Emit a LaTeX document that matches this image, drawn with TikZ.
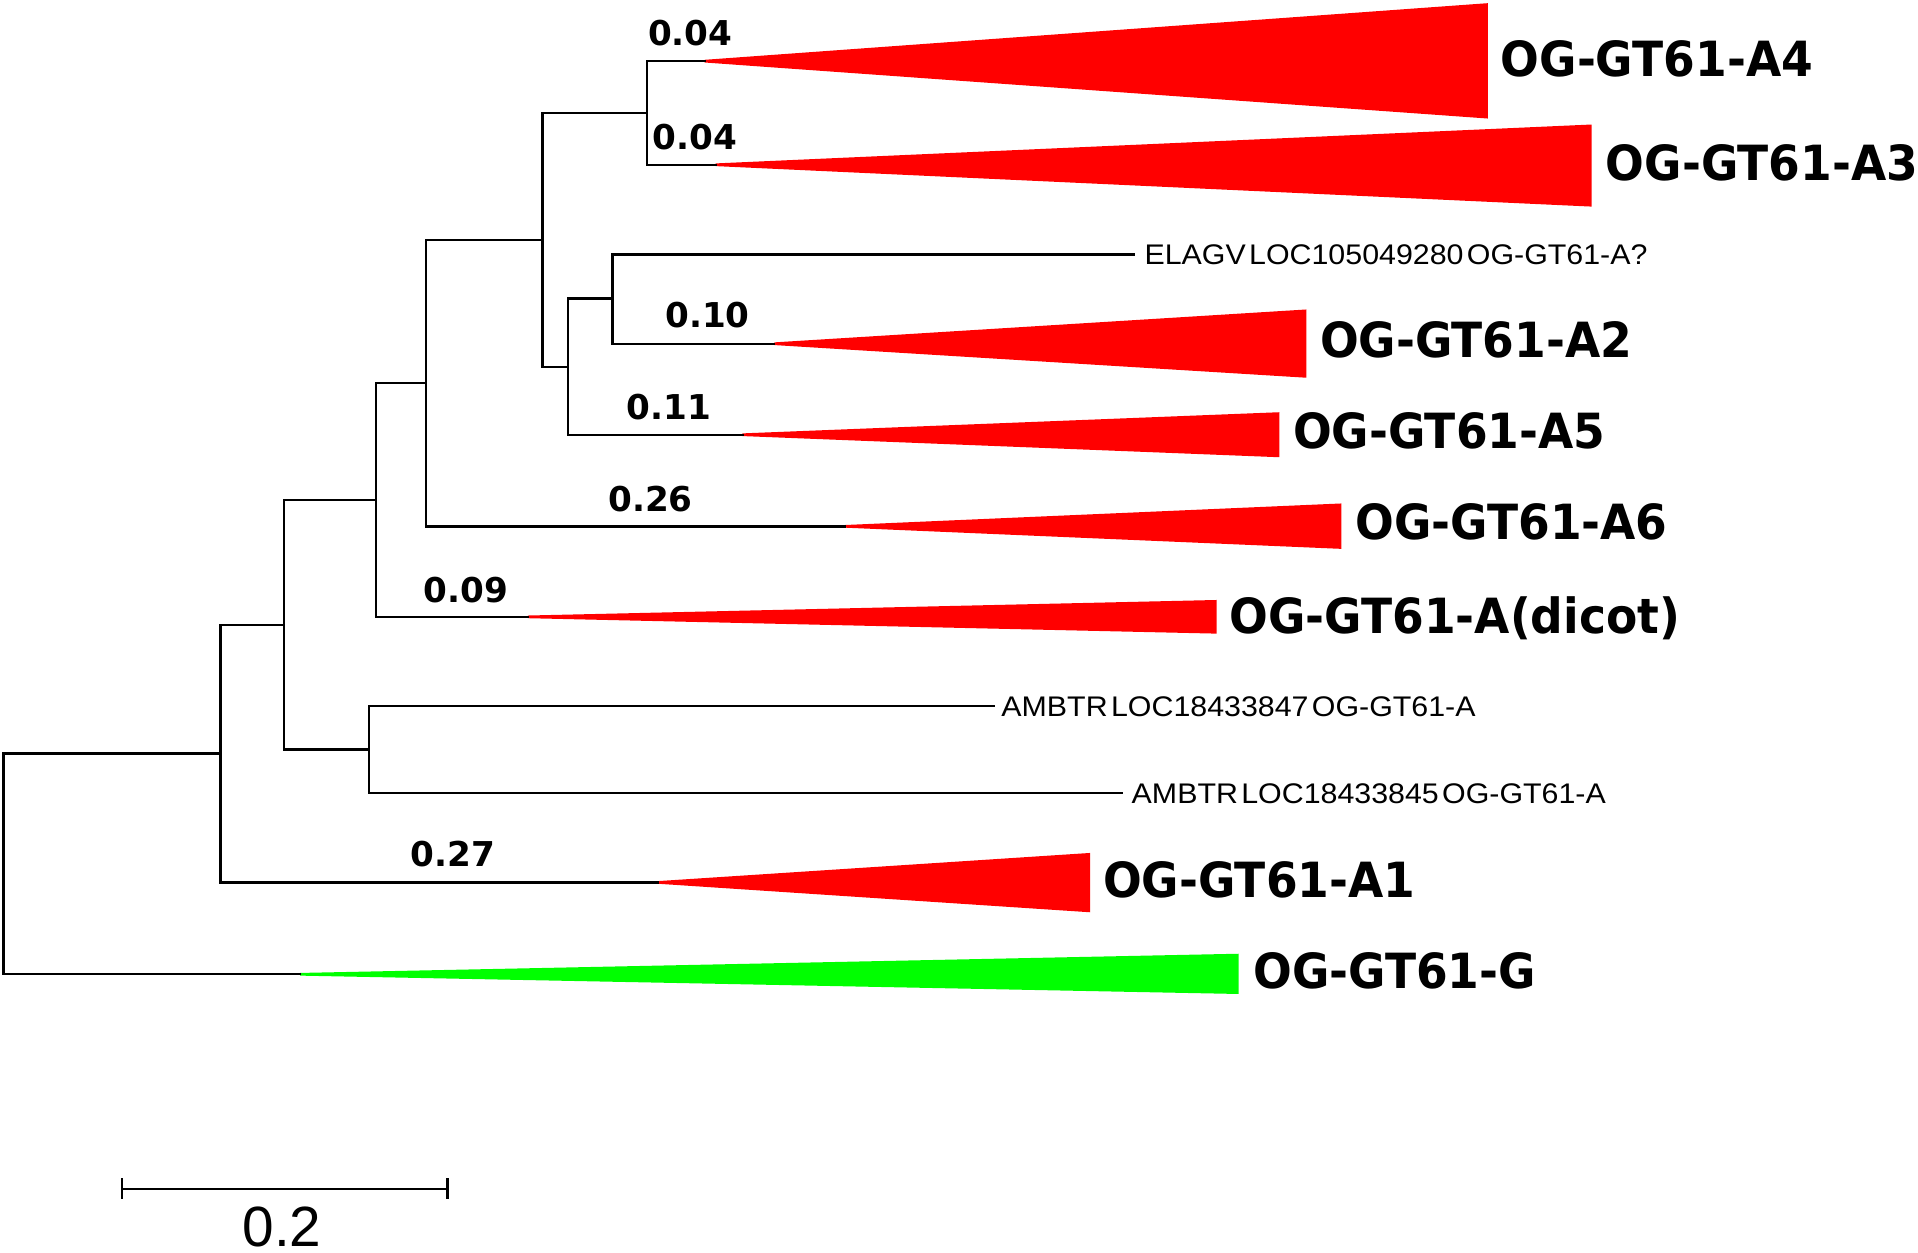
\documentclass[tikz,border=0pt]{standalone}
\usepackage{fontspec}
\setmainfont{Liberation Sans}
\newfontfamily\cladefont[FakeStretch=0.94]{DejaVu Sans}
\newfontfamily\supfont{DejaVu Sans}
\newfontfamily\taxfont[FakeStretch=1.07,WordSpace=0.4]{Liberation Sans}
\definecolor{cladered}{RGB}{255,0,0}
\definecolor{cladegreen}{RGB}{0,255,0}
\begin{document}
\begin{tikzpicture}[x=0.1mm,y=-0.1mm,
  branch/.style={line width=0.55pt, black, line cap=rect},
  redclade/.style={fill=cladered, draw=none},
  greenclade/.style={fill=cladegreen, draw=none},
  cladelab/.style={anchor=base west, inner sep=0pt, font=\cladefont\bfseries\fontsize{11.28}{13}\selectfont},
  suplab/.style={anchor=base west, inner sep=0pt, font=\supfont\bfseries\fontsize{7.96}{9}\selectfont},
  taxlab/.style={anchor=base west, inner sep=0pt, font=\taxfont\fontsize{6.6}{7.5}\selectfont},
  scalelab/.style={inner sep=0pt, font=\fontsize{13.2}{15}\selectfont}]
\useasboundingbox (0,0) rectangle (1568,1024);

% internal nodes
\coordinate (root) at (3,706.25);
\coordinate (nIn) at (180.2,616);
\coordinate (n2) at (232.3,511);
\coordinate (nAmb) at (301.9,612.8);
\coordinate (n3) at (307.4,408.6);
\coordinate (n4) at (348.4,313);
\coordinate (n5) at (443.5,196.3);
\coordinate (n6) at (529,92.35);
\coordinate (n7) at (464.5,300);
\coordinate (n8) at (500.6,244);

% tips / clade apexes
\coordinate (cA4) at (576,50);
\coordinate (cA3) at (585,134.7);
\coordinate (tElagv) at (927,208);
\coordinate (cA2) at (633,281);
\coordinate (cA5) at (607,355.4);
\coordinate (cA6) at (691,430.3);
\coordinate (cDicot) at (431.5,504.3);
\coordinate (tAmb47) at (812.3,577.1);
\coordinate (tAmb45) at (917.2,648.5);
\coordinate (cA1) at (538.1,721.4);
\coordinate (cG) at (245.3,796.5);

% collapsed clades
\fill[redclade] (576,48.9) -- (1216.3,2.6) -- (1216.3,96.9) -- (576,51.1) -- cycle;
\fill[redclade] (585,133.6) -- (1301.2,101.8) -- (1301.2,168.9) -- (585,135.8) -- cycle;
\fill[redclade] (633,279.9) -- (1068,253) -- (1068,308.8) -- (633,282.1) -- cycle;
\fill[redclade] (607,354.3) -- (1046,337) -- (1046,373.8) -- (607,356.5) -- cycle;
\fill[redclade] (691,429.2) -- (1096.5,411.6) -- (1096.5,448.7) -- (691,431.4) -- cycle;
\fill[redclade] (431.5,503.2) -- (994.6,490.5) -- (994.6,518) -- (431.5,505.4) -- cycle;
\fill[redclade] (538.1,720.3) -- (891.2,697.3) -- (891.2,745.8) -- (538.1,722.5) -- cycle;
\fill[greenclade] (245.3,795.4) -- (1012.6,779.7) -- (1012.6,812.6) -- (245.3,797.6) -- cycle;

% branches
\draw[branch] (root) |- (nIn);
\draw[branch] (root) |- (cG);
\draw[branch] (nIn) |- (n2);
\draw[branch] (nIn) |- (cA1);
\draw[branch] (n2) |- (n3);
\draw[branch] (n2) |- (nAmb);
\draw[branch] (nAmb) |- (tAmb47);
\draw[branch] (nAmb) |- (tAmb45);
\draw[branch] (n3) |- (n4);
\draw[branch] (n3) |- (cDicot);
\draw[branch] (n4) |- (n5);
\draw[branch] (n4) |- (cA6);
\draw[branch] (n5) |- (n6);
\draw[branch] (n5) |- (n7);
\draw[branch] (n6) |- (cA4);
\draw[branch] (n6) |- (cA3);
\draw[branch] (n7) |- (n8);
\draw[branch] (n7) |- (cA5);
\draw[branch] (n8) |- (tElagv);
\draw[branch] (n8) |- (cA2);

% clade labels
\node[cladelab] (lA4) at (1226.3,62.4) {OG-GT61-A4};
\node[cladelab] (lA3) at (1312.2,147.2) {OG-GT61-A3};
\node[cladelab] (lA2) at (1078.5,292.4) {OG-GT61-A2};
\node[cladelab] (lA5) at (1056.5,367) {OG-GT61-A5};
\node[cladelab] (lA6) at (1107.4,441) {OG-GT61-A6};
\node[cladelab] (lDicot) at (1004.5,518) {OG-GT61-A(dicot)};
\node[cladelab] (lA1) at (901.2,734) {OG-GT61-A1};
\node[cladelab] (lG) at (1024,808) {OG-GT61-G};

% taxon labels
\node[taxlab] (lElagv) at (935,216.3) {ELAGV LOC105049280 OG-GT61-A?};
\node[taxlab] (lAmb47) at (818,585.4) {AMBTR LOC18433847 OG-GT61-A};
\node[taxlab] (lAmb45) at (924.5,656.8) {AMBTR LOC18433845 OG-GT61-A};

% branch support labels
\node[suplab] (s1) at (529.1,36.8) {0.04};
\node[suplab] (s2) at (533.1,122.2) {0.04};
\node[suplab] (s3) at (543.2,267.7) {0.10};
\node[suplab] (s4) at (511.5,343) {0.11};
\node[suplab] (s5) at (496.5,417.9) {0.26};
\node[suplab] (s6) at (345.5,492.8) {0.09};
\node[suplab] (s7) at (334.9,708.5) {0.27};

% scale bar
\coordinate (sbL) at (99.6,972);
\coordinate (sbR) at (365.7,972);
\draw[branch, line cap=butt] (sbL) -- (sbR);
\draw[branch, line cap=butt] ([yshift=0.86mm]sbL) -- ([yshift=-0.86mm]sbL);
\draw[branch, line cap=butt] ([yshift=0.86mm]sbR) -- ([yshift=-0.86mm]sbR);
\node[scalelab] (sbText) at (230.5,1003) {0.2};
\end{tikzpicture}
\end{document}
